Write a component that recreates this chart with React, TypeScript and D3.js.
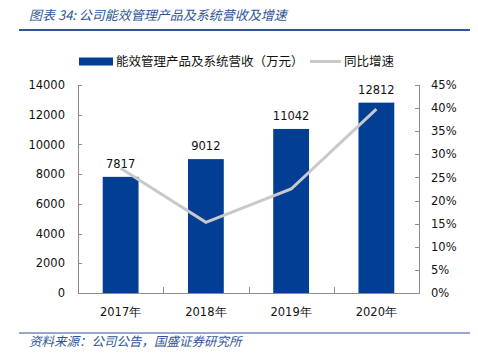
import { useEffect, useRef } from "react";
import * as d3 from "d3";

const years = ["2017年", "2018年", "2019年", "2020年"];
const revenue = [7817, 9012, 11042, 12812];
const growth = [0.27, 0.153, 0.225, 0.398];
const leftTicks = [0, 2000, 4000, 6000, 8000, 10000, 12000, 14000];
const rightTicks = [0, 0.05, 0.1, 0.15, 0.2, 0.25, 0.3, 0.35, 0.4, 0.45];

const W = 478;
const H = 359;
const BLUE = "#023e94";
const GREY = "#c9c9c9";
const AXIS = "#8c8c8c";
const CJK = "'Noto Sans CJK SC', sans-serif";
const NUM = "'DejaVu Sans', sans-serif";

const App = () => {
  const ref = useRef<SVGSVGElement>(null);

  useEffect(() => {
    const svg = d3.select(ref.current);
    svg.selectAll("*").remove();

    const left = 78;
    const right = 419;
    const top = 85;
    const bottom = 293;

    const x = d3.scaleBand().domain(years).range([left, right]).paddingInner(0.58).paddingOuter(0.29);
    const y = d3.scaleLinear().domain([0, 14000]).range([bottom, top]);
    const y2 = d3.scaleLinear().domain([0, 0.45]).range([bottom, top]);
    const step = (right - left) / years.length;

    // title
    svg.append("text")
      .attr("x", 29).attr("y", 20)
      .attr("font-family", CJK).attr("font-size", 13).attr("font-style", "italic")
      .attr("fill", "#2f5597")
      .text("图表 34:  公司能效管理产品及系统营收及增速");
    svg.append("line")
      .attr("x1", 19).attr("x2", 470).attr("y1", 30).attr("y2", 30)
      .attr("stroke", "#2f5597").attr("stroke-width", 2);

    // legend
    svg.append("rect").attr("x", 79).attr("y", 57.5).attr("width", 34).attr("height", 8).attr("fill", BLUE);
    svg.append("text").attr("x", 116).attr("y", 65.5)
      .attr("font-family", CJK).attr("font-size", 12.5).attr("fill", "#111")
      .text("能效管理产品及系统营收（万元）");
    svg.append("line").attr("x1", 310).attr("x2", 341).attr("y1", 61.5).attr("y2", 61.5)
      .attr("stroke", GREY).attr("stroke-width", 3);
    svg.append("text").attr("x", 344).attr("y", 65.5)
      .attr("font-family", CJK).attr("font-size", 12.5).attr("fill", "#111")
      .text("同比增速");

    // axes
    const ax = svg.append("g").attr("stroke", AXIS).attr("stroke-width", 1);
    ax.append("line").attr("x1", left + 0.5).attr("x2", left + 0.5).attr("y1", top).attr("y2", bottom);
    ax.append("line").attr("x1", right + 0.5).attr("x2", right + 0.5).attr("y1", top).attr("y2", bottom);
    ax.append("line").attr("x1", left).attr("x2", right + 1).attr("y1", bottom + 0.5).attr("y2", bottom + 0.5);
    leftTicks.forEach((t) => {
      ax.append("line").attr("x1", left).attr("x2", left + 4)
        .attr("y1", Math.round(y(t)) + 0.5).attr("y2", Math.round(y(t)) + 0.5);
    });
    rightTicks.forEach((t) => {
      ax.append("line").attr("x1", right - 4).attr("x2", right)
        .attr("y1", Math.round(y2(t)) + 0.5).attr("y2", Math.round(y2(t)) + 0.5);
    });
    d3.range(1, years.length + 1).forEach((i) => {
      const xx = Math.round(left + step * i) + 0.5;
      ax.append("line").attr("x1", xx).attr("x2", xx).attr("y1", bottom - 6).attr("y2", bottom);
    });

    svg.append("g").selectAll("text").data(leftTicks).enter().append("text")
      .attr("x", 65).attr("y", (d) => y(d)).attr("dy", "0.36em")
      .attr("text-anchor", "end").attr("font-family", NUM).attr("font-size", 11.5).attr("fill", "#111")
      .text((d) => String(d));
    svg.append("g").selectAll("text").data(rightTicks).enter().append("text")
      .attr("x", 431).attr("y", (d) => y2(d)).attr("dy", "0.36em")
      .attr("font-family", NUM).attr("font-size", 11.5).attr("fill", "#111")
      .text((d) => `${Math.round(d * 100)}%`);

    // bars
    svg.append("g").selectAll("rect").data(revenue).enter().append("rect")
      .attr("x", (_, i) => x(years[i])!)
      .attr("y", (d) => y(d))
      .attr("width", x.bandwidth())
      .attr("height", (d) => bottom - y(d))
      .attr("fill", BLUE);

    svg.append("g").selectAll("text").data(revenue).enter().append("text")
      .attr("x", (_, i) => x(years[i])! + x.bandwidth() / 2)
      .attr("y", (d) => y(d) - 9)
      .attr("text-anchor", "middle").attr("font-family", NUM).attr("font-size", 11.5).attr("fill", "#111")
      .text((d) => String(d));

    // growth line
    const line = d3.line<number>()
      .x((_, i) => x(years[i])! + x.bandwidth() / 2)
      .y((d) => y2(d));
    svg.append("path").datum(growth).attr("d", line)
      .attr("fill", "none").attr("stroke", GREY).attr("stroke-width", 3);

    // x labels
    svg.append("g").selectAll("text").data(years).enter().append("text")
      .attr("x", (d) => x(d)! + x.bandwidth() / 2).attr("y", 316)
      .attr("text-anchor", "middle").attr("font-family", NUM).attr("font-size", 11.5).attr("fill", "#111")
      .text((d) => d);

    // footer
    svg.append("line")
      .attr("x1", 19).attr("x2", 470).attr("y1", 333).attr("y2", 333)
      .attr("stroke", "#2f5597").attr("stroke-width", 1);
    svg.append("text")
      .attr("x", 29).attr("y", 346)
      .attr("font-family", CJK).attr("font-size", 12.5).attr("font-style", "italic")
      .attr("fill", "#2f5597")
      .text("资料来源：公司公告，国盛证券研究所");
  }, []);

  return (
    <svg ref={ref} width={W} height={H} style={{ position: "absolute", left: 0, top: 0, background: "#fff" }} />
  );
};

export default App;
